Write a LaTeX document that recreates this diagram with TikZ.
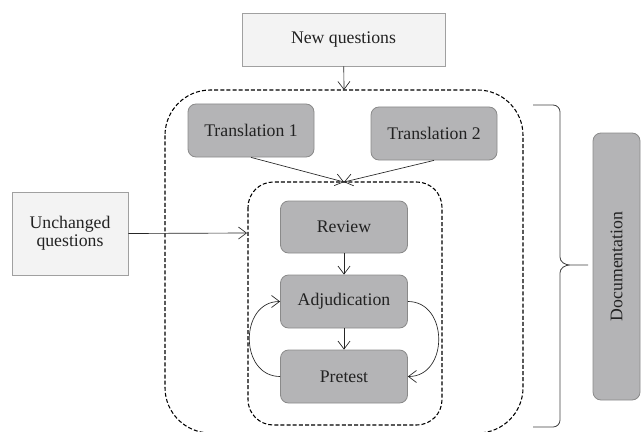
\documentclass[tikz,border=0pt]{standalone}
\usepackage{fontspec}
\setmainfont{Liberation Serif}
\usetikzlibrary{arrows.meta}
\definecolor{darkbox}{HTML}{B4B4B6}
\definecolor{darkedge}{HTML}{8A8A8A}
\definecolor{lightbox}{HTML}{F3F3F3}
\definecolor{lightedge}{HTML}{A0A0A0}
\definecolor{txt}{HTML}{222222}
\tikzset{
  every node/.style={font=\fontsize{13.3}{15.5}\selectfont, text=txt},
  darkstep/.style={draw=darkedge, fill=darkbox, rounded corners=6pt, line width=0.6pt, inner sep=0pt},
  lightstep/.style={draw=lightedge, fill=lightbox, line width=0.6pt, inner sep=0pt},
  grp/.style={draw=black, line width=0.8pt, dash pattern=on 3pt off 1.6pt},
  conn/.style={draw=black!85, line width=0.5pt, -{Straight Barb[length=6pt,width=9pt]}},
}
\begin{document}
\begin{tikzpicture}[x=0.75pt,y=-0.75pt]
\useasboundingbox (0,0) rectangle (641,431);
% groups
\begin{scope}
\clip (0,0) rectangle (641,431);
\draw[grp, rounded corners=34pt] (165,90) rectangle (523,433);
\end{scope}
\draw[grp, rounded corners=19pt] (248,182) rectangle (442,425);
\coordinate (outertop) at (344,90);
\coordinate (innertop) at (344,182);
\coordinate (innerleft) at (247,233);
% boxes
\node[lightstep, minimum width=203*0.75pt, minimum height=53*0.75pt] (newq) at (343.5,39.5) {New questions};
\node[lightstep, minimum width=116*0.75pt, minimum height=83*0.75pt, align=center] (unch) at (70,233.5) {Unchanged\\[-2pt]questions};
\node[darkstep, minimum width=126*0.75pt, minimum height=53*0.75pt] (t1) at (251,130.5) {Translation 1};
\node[darkstep, minimum width=126*0.75pt, minimum height=53*0.75pt] (t2) at (434,133.5) {Translation 2};
\node[darkstep, minimum width=127*0.75pt, minimum height=52*0.75pt] (rev) at (344,227) {Review};
\node[darkstep, minimum width=127*0.75pt, minimum height=53*0.75pt] (adj) at (344,301.5) {Adjudication};
\node[darkstep, minimum width=127*0.75pt, minimum height=53*0.75pt] (pre) at (344,376.5) {Pretest};
\node[darkstep, minimum width=267*0.75pt, minimum height=47*0.75pt, rotate=90] (doc) at (616.5,266.5) {Documentation};
% connectors
\draw[conn] (newq) -- (outertop);
\draw[conn] (t1.south) -- (innertop);
\draw[conn] (t2.south) -- (innertop);
\draw[conn] (unch.east) -- (innerleft);
\draw[conn] (rev) -- (adj);
\draw[conn] (adj) -- (pre);
\draw[conn] (pre.west) to[out=180,in=180,looseness=1.4] (adj.west);
\draw[conn] (adj.east) to[out=0,in=0,looseness=1.4] (pre.east);
% brace
\draw[black!75, line width=0.6pt] (533,105) -- (553,105) to[out=0,in=90] (560,112) -- (560,257)
  to[out=-90,in=180] (570,265) -- (588,265) -- (570,265) to[out=180,in=90] (560,273)
  -- (560,420) to[out=-90,in=0] (553,427) -- (533,427);
\end{tikzpicture}
\end{document}
